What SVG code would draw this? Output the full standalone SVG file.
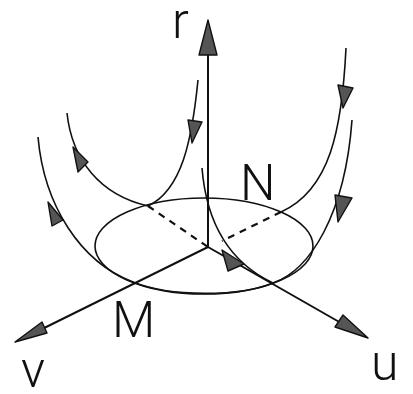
<svg xmlns="http://www.w3.org/2000/svg" width="413" height="394" viewBox="0 0 413 394">
<style>
.c{fill:none;stroke:#111;stroke-width:1.6}
.ax{fill:none;stroke:#111;stroke-width:2}
.d{fill:none;stroke:#111;stroke-width:2.2;stroke-dasharray:7 6}
.h{fill:#555;stroke:#111;stroke-width:1.4;stroke-linejoin:round}
.t{font-family:Roboto,"Liberation Sans",sans-serif;font-weight:300;font-size:50px;fill:#111}
</style>
<rect width="413" height="394" fill="#fff"/>
<g id="connectors">
<ellipse class="c" cx="204" cy="246" rx="109" ry="48"/>
<path class="c" d="M38,137 C44,205 80,262 133,282 C170,297 240,297 273,283 C310,270 345,215 352,120"/>
<path class="c" d="M67,113 C72,160 100,195 148,206"/>
<path class="c" d="M198,80 C192,140 182,190 148,206"/>
<path class="c" d="M346,48 C342,130 330,190 281,212"/>
<path class="c" d="M202,168 C207,230 235,265 273,283"/>
<path class="d" d="M148,206 L208,247"/>
<path class="d" d="M281,212 L222,241"/>
<path class="ax" d="M208,247 L208,55"/>
<path class="ax" d="M208,247 L30,335"/>
<path class="ax" d="M208,247 L355,331"/>
</g>
<g id="arrows">
<polygon class="h" points="208,20 199,55 217,55"/>
<polygon class="h" points="15,342 42,322 47,333"/>
<polygon class="h" points="368,338 343,315 335,327"/>
<polygon class="h" points="73,147 88,162 78,172"/>
<polygon class="h" points="48,202 63,220 52,226"/>
<polygon class="h" points="192,143 188,120 202,122"/>
<polygon class="h" points="343,108 338,85 353,88"/>
<polygon class="h" points="338,222 335,195 352,198"/>
<polygon class="h" points="244,264 222,250 228,271"/>
</g>
<g id="label-r"><text class="t" x="172" y="38">r</text></g>
<g id="label-N"><text class="t" x="240" y="200">N</text></g>
<g id="label-M"><text class="t" x="112" y="337">M</text></g>
<g id="label-v"><text class="t" x="21" y="387">v</text></g>
<g id="label-u"><text class="t" x="371" y="380">u</text></g>
</svg>
